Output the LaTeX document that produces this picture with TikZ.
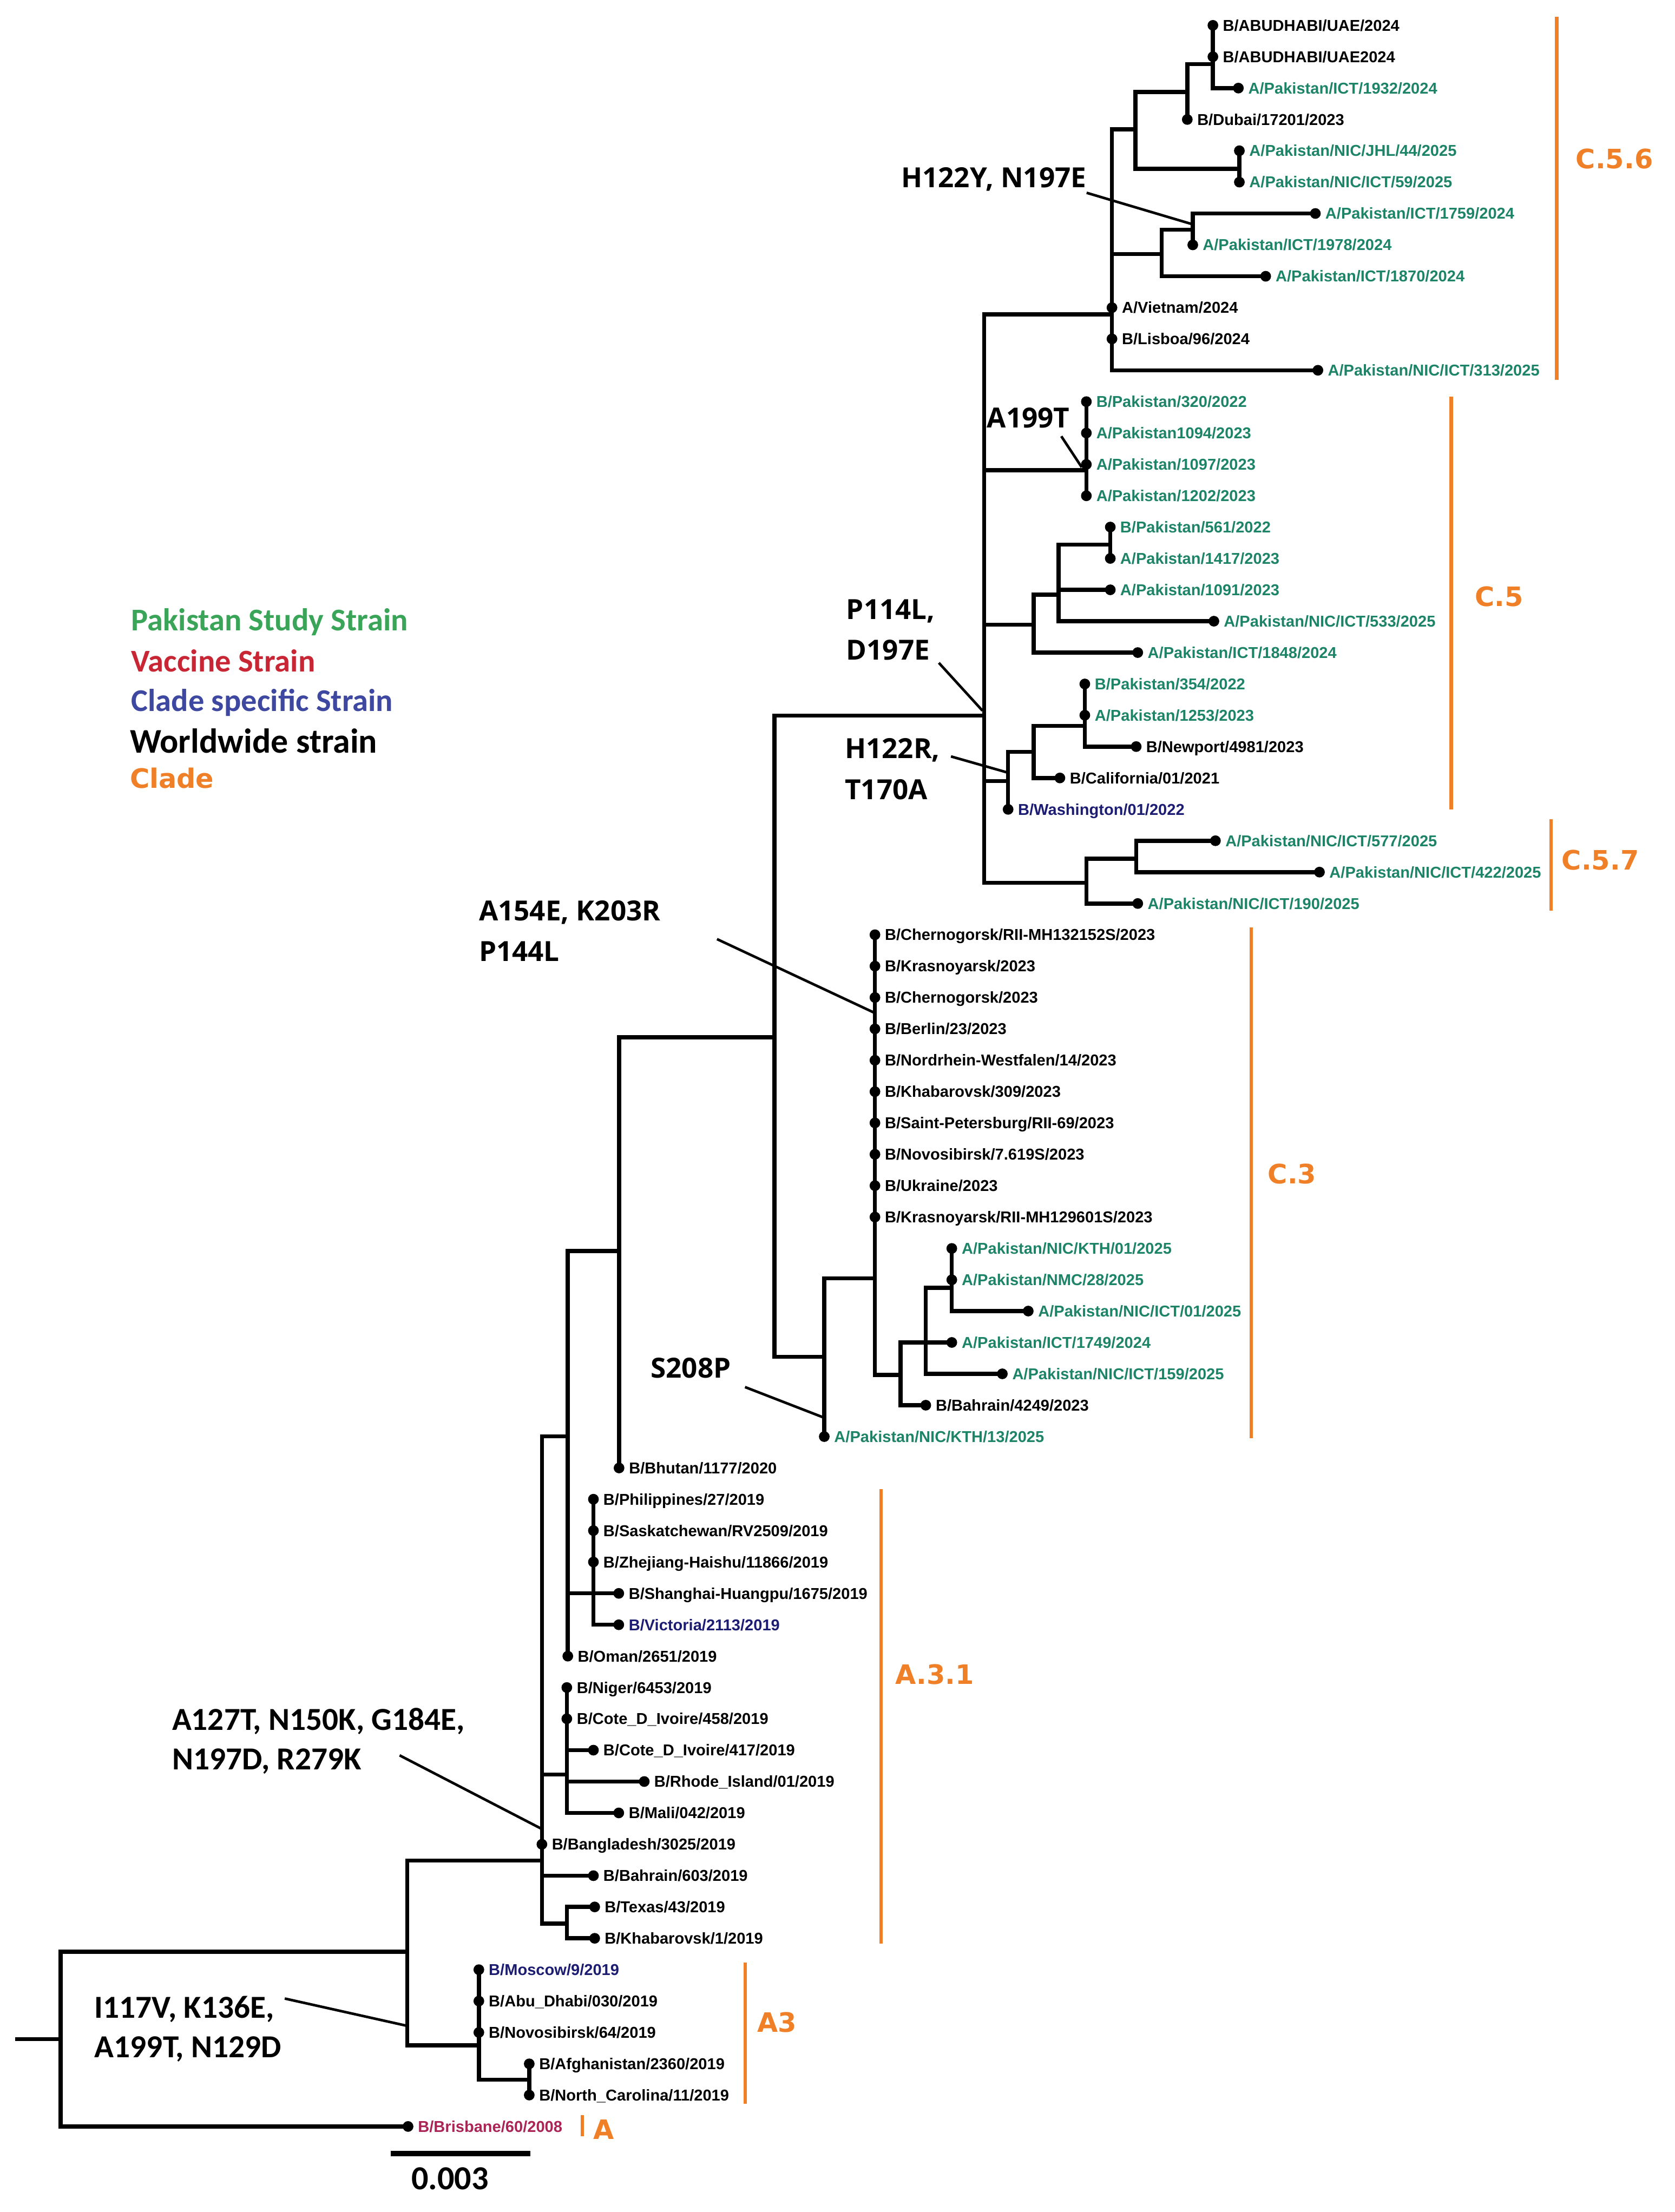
\documentclass[tikz,border=0pt]{standalone}
\usepackage{fontspec}
\setmainfont{Liberation Sans}
\newfontfamily\opensans{Open Sans}
\newfontfamily\carlito{Carlito}
\newfontfamily\dejavu{DejaVu Sans}
\definecolor{pkgreen}{RGB}{30,132,104}
\definecolor{legGreen}{RGB}{58,165,88}
\definecolor{legRed}{RGB}{200,38,52}
\definecolor{legBlue}{RGB}{62,72,160}
\definecolor{tipBlue}{RGB}{28,28,115}
\definecolor{vacRed}{RGB}{170,36,86}
\definecolor{cladeorange}{RGB}{240,128,40}
\tikzset{
  br/.style={line width=2.05pt, black},
  annline/.style={line width=1.3pt, black},
  tipdot/.style={circle, fill=black, inner sep=0pt, minimum size=0.19cm},
  tiplab/.style={anchor=west, inner sep=0pt, font=\fontsize{7.95}{9}\selectfont\bfseries, text height=5.7pt, text depth=0pt},
  ann/.style={anchor=west, inner sep=0pt, font=\opensans\bfseries\fontsize{14}{16}\selectfont, text height=10pt, text depth=0pt},
  annC/.style={anchor=west, inner sep=0pt, font=\carlito\bfseries\fontsize{16.2}{18}\selectfont, text height=10.4pt, text depth=0pt},
  cladebar/.style={draw=cladeorange, line width=1.7pt},
  cladelab/.style={inner sep=0pt, text=cladeorange, font=\dejavu\bfseries\fontsize{13.5}{15}\selectfont, text height=9.8pt, text depth=0pt},
  leg/.style={anchor=west, inner sep=0pt, font=\carlito\bfseries\fontsize{16}{18}\selectfont, text height=10.3pt, text depth=0pt}
}
\newcommand\tiplabel[3]{\node[tipdot] (D#1) at (T#1) {};
  \node[tiplab,text=#2] (L#1) at ([xshift=0.17cm]T#1) {#3};}
\begin{document}
\begin{tikzpicture}[x=0.025cm, y=-0.025cm]
\fill[white] (0,0) rectangle (1190,1571.8);
\useasboundingbox (0,0) rectangle (1190,1571.8);
% internal nodes
\coordinate (R0) at (10.7,1449);
\coordinate (R) at (43,1449);
\coordinate (N1) at (289.3,1386.8);
\coordinate (N2) at (385,1322);
\coordinate (N3) at (340.2,1453.4);
\coordinate (N32) at (376,1477.8);
\coordinate (N4) at (403.4,1020.6);
\coordinate (N5) at (402.7,1261);
\coordinate (N6) at (402.7,1366.9);
\coordinate (N7) at (439.8,888.9);
\coordinate (N8) at (421.6,1132.2);
\coordinate (N9) at (550.2,737);
\coordinate (N10) at (699.2,508.4);
\coordinate (N11) at (585.6,964.1);
\coordinate (N12) at (621.6,908.4);
\coordinate (N13) at (639.7,977);
\coordinate (N14) at (657.7,953.9);
\coordinate (N15) at (676.2,915.1);
\coordinate (N16) at (790,223.4);
\coordinate (N17) at (771.8,334.2);
\coordinate (N18) at (734.3,443.9);
\coordinate (N19) at (716.2,555);
\coordinate (N20) at (771.8,627.3);
\coordinate (N21) at (806.6,91.8);
\coordinate (N22) at (825.3,180.5);
\coordinate (N23) at (843.5,65.3);
\coordinate (N24) at (880.5,120);
\coordinate (N25) at (861.7,45.6);
\coordinate (N26) at (847.4,163.3);
\coordinate (N27) at (752,422.5);
\coordinate (N28) at (788.8,387);
\coordinate (N29) at (734.3,534.2);
\coordinate (N30) at (770.7,515.8);
\coordinate (N31) at (807.2,610.2);
% tips
\coordinate (T0) at (861.7,18.0);
\coordinate (T1) at (861.7,40.3);
\coordinate (T2) at (879.8,62.6);
\coordinate (T3) at (843.5,84.9);
\coordinate (T4) at (880.5,107.1);
\coordinate (T5) at (880.5,129.4);
\coordinate (T6) at (934.5,151.7);
\coordinate (T7) at (847.4,174.0);
\coordinate (T8) at (899.2,196.3);
\coordinate (T9) at (790,218.6);
\coordinate (T10) at (790,240.8);
\coordinate (T11) at (936.3,263.1);
\coordinate (T12) at (771.8,285.4);
\coordinate (T13) at (771.8,307.7);
\coordinate (T14) at (771.8,330.0);
\coordinate (T15) at (771.8,352.3);
\coordinate (T16) at (788.8,374.5);
\coordinate (T17) at (788.8,396.8);
\coordinate (T18) at (788.8,419.1);
\coordinate (T19) at (862.4,441.4);
\coordinate (T20) at (808.3,463.7);
\coordinate (T21) at (770.7,486.0);
\coordinate (T22) at (770.7,508.2);
\coordinate (T23) at (807.2,530.5);
\coordinate (T24) at (753,552.8);
\coordinate (T25) at (716.2,575.1);
\coordinate (T26) at (863.5,597.4);
\coordinate (T27) at (937.4,619.7);
\coordinate (T28) at (808.3,642.0);
\coordinate (T29) at (621.6,664.2);
\coordinate (T30) at (621.6,686.5);
\coordinate (T31) at (621.6,708.8);
\coordinate (T32) at (621.6,731.1);
\coordinate (T33) at (621.6,753.4);
\coordinate (T34) at (621.6,775.7);
\coordinate (T35) at (621.6,797.9);
\coordinate (T36) at (621.6,820.2);
\coordinate (T37) at (621.6,842.5);
\coordinate (T38) at (621.6,864.8);
\coordinate (T39) at (676.2,887.1);
\coordinate (T40) at (676.2,909.4);
\coordinate (T41) at (730.5,931.6);
\coordinate (T42) at (676.2,953.9);
\coordinate (T43) at (712.1,976.2);
\coordinate (T44) at (657.7,998.5);
\coordinate (T45) at (585.6,1020.8);
\coordinate (T46) at (439.8,1043.1);
\coordinate (T47) at (421.6,1065.3);
\coordinate (T48) at (421.6,1087.6);
\coordinate (T49) at (421.6,1109.9);
\coordinate (T50) at (439.6,1132.2);
\coordinate (T51) at (439.6,1154.5);
\coordinate (T52) at (403.4,1176.8);
\coordinate (T53) at (402.7,1199.1);
\coordinate (T54) at (402.7,1221.3);
\coordinate (T55) at (421.6,1243.6);
\coordinate (T56) at (457.7,1265.9);
\coordinate (T57) at (439.6,1288.2);
\coordinate (T58) at (385,1310.5);
\coordinate (T59) at (421.6,1332.8);
\coordinate (T60) at (422.5,1355.0);
\coordinate (T61) at (422.5,1377.3);
\coordinate (T62) at (340.2,1399.6);
\coordinate (T63) at (340.2,1421.9);
\coordinate (T64) at (340.2,1444.2);
\coordinate (T65) at (376,1466.5);
\coordinate (T66) at (376,1488.7);
\coordinate (T67) at (289.9,1511.0);
% branches
\draw[br] (R0) -- (R);
\foreach \c in {N1,T67} \draw[br] (R) |- (\c);
\foreach \c in {N2,N3} \draw[br] (N1) |- (\c);
\foreach \c in {T62,T63,T64,N32} \draw[br] (N3) |- (\c);
\foreach \c in {T65,T66} \draw[br] (N32) |- (\c);
\foreach \c in {N4,N5,T58,T59,N6} \draw[br] (N2) |- (\c);
\foreach \c in {T60,T61} \draw[br] (N6) |- (\c);
\foreach \c in {T53,T54,T55,T56,T57} \draw[br] (N5) |- (\c);
\foreach \c in {N7,N8,T52} \draw[br] (N4) |- (\c);
\foreach \c in {T47,T48,T49,T50,T51} \draw[br] (N8) |- (\c);
\foreach \c in {N9,T46} \draw[br] (N7) |- (\c);
\foreach \c in {N10,N11} \draw[br] (N9) |- (\c);
\foreach \c in {N12,T45} \draw[br] (N11) |- (\c);
\foreach \c in {T29,T30,T31,T32,T33,T34,T35,T36,T37,T38,N13} \draw[br] (N12) |- (\c);
\foreach \c in {N14,T44} \draw[br] (N13) |- (\c);
\foreach \c in {N15,T42,T43} \draw[br] (N14) |- (\c);
\foreach \c in {T39,T40,T41} \draw[br] (N15) |- (\c);
\foreach \c in {N16,N17,N18,N19,N20} \draw[br] (N10) |- (\c);
\foreach \c in {N21,N22,T9,T10,T11} \draw[br] (N16) |- (\c);
\foreach \c in {N23,N24} \draw[br] (N21) |- (\c);
\foreach \c in {N25,T3} \draw[br] (N23) |- (\c);
\foreach \c in {T0,T1,T2} \draw[br] (N25) |- (\c);
\foreach \c in {T4,T5} \draw[br] (N24) |- (\c);
\foreach \c in {N26,T8} \draw[br] (N22) |- (\c);
\foreach \c in {T6,T7} \draw[br] (N26) |- (\c);
\foreach \c in {T12,T13,T14,T15} \draw[br] (N17) |- (\c);
\foreach \c in {N27,T20} \draw[br] (N18) |- (\c);
\foreach \c in {N28,T18,T19} \draw[br] (N27) |- (\c);
\foreach \c in {T16,T17} \draw[br] (N28) |- (\c);
\foreach \c in {N29,T25} \draw[br] (N19) |- (\c);
\foreach \c in {N30,T24} \draw[br] (N29) |- (\c);
\foreach \c in {T21,T22,T23} \draw[br] (N30) |- (\c);
\foreach \c in {N31,T28} \draw[br] (N20) |- (\c);
\foreach \c in {T26,T27} \draw[br] (N31) |- (\c);
% tips and labels
\tiplabel{0}{black}{B/ABUDHABI/UAE/2024}
\tiplabel{1}{black}{B/ABUDHABI/UAE2024}
\tiplabel{2}{pkgreen}{A/Pakistan/ICT/1932/2024}
\tiplabel{3}{black}{B/Dubai/17201/2023}
\tiplabel{4}{pkgreen}{A/Pakistan/NIC/JHL/44/2025}
\tiplabel{5}{pkgreen}{A/Pakistan/NIC/ICT/59/2025}
\tiplabel{6}{pkgreen}{A/Pakistan/ICT/1759/2024}
\tiplabel{7}{pkgreen}{A/Pakistan/ICT/1978/2024}
\tiplabel{8}{pkgreen}{A/Pakistan/ICT/1870/2024}
\tiplabel{9}{black}{A/Vietnam/2024}
\tiplabel{10}{black}{B/Lisboa/96/2024}
\tiplabel{11}{pkgreen}{A/Pakistan/NIC/ICT/313/2025}
\tiplabel{12}{pkgreen}{B/Pakistan/320/2022}
\tiplabel{13}{pkgreen}{A/Pakistan1094/2023}
\tiplabel{14}{pkgreen}{A/Pakistan/1097/2023}
\tiplabel{15}{pkgreen}{A/Pakistan/1202/2023}
\tiplabel{16}{pkgreen}{B/Pakistan/561/2022}
\tiplabel{17}{pkgreen}{A/Pakistan/1417/2023}
\tiplabel{18}{pkgreen}{A/Pakistan/1091/2023}
\tiplabel{19}{pkgreen}{A/Pakistan/NIC/ICT/533/2025}
\tiplabel{20}{pkgreen}{A/Pakistan/ICT/1848/2024}
\tiplabel{21}{pkgreen}{B/Pakistan/354/2022}
\tiplabel{22}{pkgreen}{A/Pakistan/1253/2023}
\tiplabel{23}{black}{B/Newport/4981/2023}
\tiplabel{24}{black}{B/California/01/2021}
\tiplabel{25}{tipBlue}{B/Washington/01/2022}
\tiplabel{26}{pkgreen}{A/Pakistan/NIC/ICT/577/2025}
\tiplabel{27}{pkgreen}{A/Pakistan/NIC/ICT/422/2025}
\tiplabel{28}{pkgreen}{A/Pakistan/NIC/ICT/190/2025}
\tiplabel{29}{black}{B/Chernogorsk/RII-MH132152S/2023}
\tiplabel{30}{black}{B/Krasnoyarsk/2023}
\tiplabel{31}{black}{B/Chernogorsk/2023}
\tiplabel{32}{black}{B/Berlin/23/2023}
\tiplabel{33}{black}{B/Nordrhein-Westfalen/14/2023}
\tiplabel{34}{black}{B/Khabarovsk/309/2023}
\tiplabel{35}{black}{B/Saint-Petersburg/RII-69/2023}
\tiplabel{36}{black}{B/Novosibirsk/7.619S/2023}
\tiplabel{37}{black}{B/Ukraine/2023}
\tiplabel{38}{black}{B/Krasnoyarsk/RII-MH129601S/2023}
\tiplabel{39}{pkgreen}{A/Pakistan/NIC/KTH/01/2025}
\tiplabel{40}{pkgreen}{A/Pakistan/NMC/28/2025}
\tiplabel{41}{pkgreen}{A/Pakistan/NIC/ICT/01/2025}
\tiplabel{42}{pkgreen}{A/Pakistan/ICT/1749/2024}
\tiplabel{43}{pkgreen}{A/Pakistan/NIC/ICT/159/2025}
\tiplabel{44}{black}{B/Bahrain/4249/2023}
\tiplabel{45}{pkgreen}{A/Pakistan/NIC/KTH/13/2025}
\tiplabel{46}{black}{B/Bhutan/1177/2020}
\tiplabel{47}{black}{B/Philippines/27/2019}
\tiplabel{48}{black}{B/Saskatchewan/RV2509/2019}
\tiplabel{49}{black}{B/Zhejiang-Haishu/11866/2019}
\tiplabel{50}{black}{B/Shanghai-Huangpu/1675/2019}
\tiplabel{51}{tipBlue}{B/Victoria/2113/2019}
\tiplabel{52}{black}{B/Oman/2651/2019}
\tiplabel{53}{black}{B/Niger/6453/2019}
\tiplabel{54}{black}{B/Cote\_D\_Ivoire/458/2019}
\tiplabel{55}{black}{B/Cote\_D\_Ivoire/417/2019}
\tiplabel{56}{black}{B/Rhode\_Island/01/2019}
\tiplabel{57}{black}{B/Mali/042/2019}
\tiplabel{58}{black}{B/Bangladesh/3025/2019}
\tiplabel{59}{black}{B/Bahrain/603/2019}
\tiplabel{60}{black}{B/Texas/43/2019}
\tiplabel{61}{black}{B/Khabarovsk/1/2019}
\tiplabel{62}{tipBlue}{B/Moscow/9/2019}
\tiplabel{63}{black}{B/Abu\_Dhabi/030/2019}
\tiplabel{64}{black}{B/Novosibirsk/64/2019}
\tiplabel{65}{black}{B/Afghanistan/2360/2019}
\tiplabel{66}{black}{B/North\_Carolina/11/2019}
\tiplabel{67}{vacRed}{B/Brisbane/60/2008}
% mutation annotations
\node[ann] (aHY) at (640,126) {H122Y, N197E};
\coordinate (aHYs) at (772,137); \coordinate (aHYe) at (846,159);
\draw[annline] (aHYs) -- (aHYe);
\node[ann] (aAT) at (701,297) {A199T};
\coordinate (aATs) at (754,310); \coordinate (aATe) at (768.5,332);
\draw[annline] (aATs) -- (aATe);
\node[ann] (aP1) at (601,433) {P114L,};
\node[ann] (aP2) at (601,462) {D197E};
\coordinate (aPs) at (667,471); \coordinate (aPe) at (698,505);
\draw[annline] (aPs) -- (aPe);
\node[ann] (aHR1) at (600,532) {H122R,};
\node[ann] (aHR2) at (600,561) {T170A};
\coordinate (aHRs) at (675.6,537.5); \coordinate (aHRe) at (716,549);
\draw[annline] (aHRs) -- (aHRe);
\node[ann] (aAK1) at (340,647) {A154E, K203R};
\node[ann] (aAK2) at (340,676) {P144L};
\coordinate (aAKs) at (509.4,667.3); \coordinate (aAKe) at (620.9,719.5);
\draw[annline] (aAKs) -- (aAKe);
\node[ann] (aS) at (462,972) {S208P};
\coordinate (aSs) at (529.3,985.6); \coordinate (aSe) at (584.5,1007);
\draw[annline] (aSs) -- (aSe);
\node[annC] (aN1) at (122,1222) {A127T, N150K, G184E,};
\node[annC] (aN2) at (122,1250) {N197D, R279K};
\coordinate (aNs) at (283.9,1247.3); \coordinate (aNe) at (385.5,1299.9);
\draw[annline] (aNs) -- (aNe);
\node[annC] (aI1) at (67,1426.5) {I117V, K136E,};
\node[annC] (aI2) at (67,1454.7) {A199T, N129D};
\coordinate (aIs) at (202.3,1420.1); \coordinate (aIe) at (288.3,1439.3);
\draw[annline] (aIs) -- (aIe);
% clade bars
\coordinate (c1a) at (1106,12); \coordinate (c1b) at (1106,270);
\draw[cladebar] (c1a) -- (c1b);
\node[cladelab] (c1) at (1147,113) {C.5.6};
\coordinate (c2a) at (1031,282); \coordinate (c2b) at (1031,575);
\draw[cladebar] (c2a) -- (c2b);
\node[cladelab] (c2) at (1065,424) {C.5};
\coordinate (c3a) at (1102,582); \coordinate (c3b) at (1102,647);
\draw[cladebar] (c3a) -- (c3b);
\node[cladelab] (c3) at (1137,611) {C.5.7};
\coordinate (c4a) at (889,659); \coordinate (c4b) at (889,1022);
\draw[cladebar] (c4a) -- (c4b);
\node[cladelab] (c4) at (918,834) {C.3};
\coordinate (c5a) at (626,1058); \coordinate (c5b) at (626,1381);
\draw[cladebar] (c5a) -- (c5b);
\node[cladelab] (c5) at (664,1190) {A.3.1};
\coordinate (c6a) at (529.3,1394.5); \coordinate (c6b) at (529.3,1495);
\draw[cladebar] (c6a) -- (c6b);
\node[cladelab] (c6) at (552,1437) {A3};
\coordinate (c7a) at (413.6,1503); \coordinate (c7b) at (413.6,1518);
\draw[cladebar] (c7a) -- (c7b);
\node[cladelab] (c7) at (429,1513) {A};
% legend
\node[leg, text=legGreen] (lg1) at (93,441) {Pakistan Study Strain};
\node[leg, text=legRed] (lg2) at (93,470) {Vaccine Strain};
\node[leg, text=legBlue] (lg3) at (93,498) {Clade specific Strain};
\node[leg, text=black, font=\carlito\bfseries\fontsize{17.5}{19}\selectfont, text height=11.3pt] (lg4) at (92,527) {Worldwide strain};
\node[cladelab, anchor=west] (lg5) at (92,553) {Clade};
% scale bar
\coordinate (sb1) at (277.5,1530.3); \coordinate (sb2) at (376.7,1530.3);
\draw[line width=2.8pt] (sb1) -- (sb2);
\node[inner sep=0pt, font=\carlito\bfseries\fontsize{17}{19}\selectfont, text height=11pt, text depth=0pt] (sbl) at (319.7,1548) {0.003};
\end{tikzpicture}
\end{document}
